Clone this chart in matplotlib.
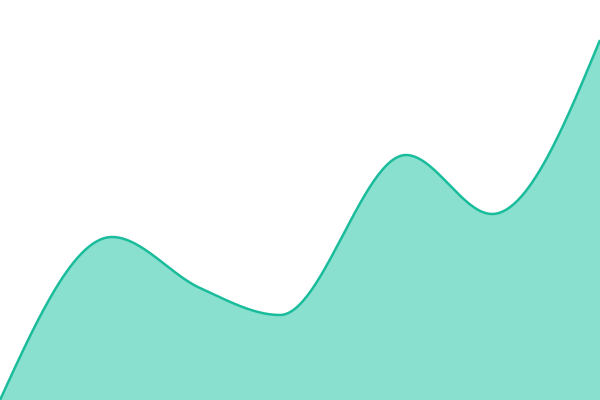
import matplotlib
matplotlib.use('Agg')
import matplotlib.pyplot as plt
import numpy as np

# values (x position, height)
xs = [0, 112, 200, 280, 406, 492, 600]
ys = [0, 163, 112, 85, 245, 186, 360]

line_color = '#1abc9c'
fill_color = '#89e0cf'


def monotone_curve(x, y, n=60):
    # monotone cubic (same rule as d3 curveMonotoneX)
    x = np.asarray(x, float)
    y = np.asarray(y, float)
    h = np.diff(x)
    s = np.diff(y) / h
    t = np.zeros(len(x))
    for i in range(1, len(x) - 1):
        p = (s[i - 1] * h[i] + s[i] * h[i - 1]) / (h[i - 1] + h[i])
        t[i] = (np.sign(s[i - 1]) + np.sign(s[i])) * min(abs(s[i - 1]), abs(s[i]), 0.5 * abs(p))
    t[0] = (3 * s[0] - t[1]) / 2
    t[-1] = (3 * s[-1] - t[-2]) / 2
    px, py = [], []
    for i in range(len(x) - 1):
        u = np.linspace(0, 1, n)
        h00 = 2 * u**3 - 3 * u**2 + 1
        h10 = u**3 - 2 * u**2 + u
        h01 = -2 * u**3 + 3 * u**2
        h11 = u**3 - u**2
        px.append(x[i] + u * h[i])
        py.append(h00 * y[i] + h10 * h[i] * t[i] + h01 * y[i + 1] + h11 * h[i] * t[i + 1])
    return np.concatenate(px), np.concatenate(py)


cx, cy = monotone_curve(xs, ys)

fig = plt.figure(figsize=(6, 4), dpi=100)
ax = fig.add_axes([0, 0, 1, 1])
ax.fill_between(cx, 0, cy, color=fill_color, linewidth=0)
ax.plot(cx, cy, color=line_color, linewidth=1.8, solid_capstyle='butt')
ax.set_xlim(0, 600)
ax.set_ylim(0, 400)
ax.axis('off')
fig.savefig('out.png', dpi=100)
